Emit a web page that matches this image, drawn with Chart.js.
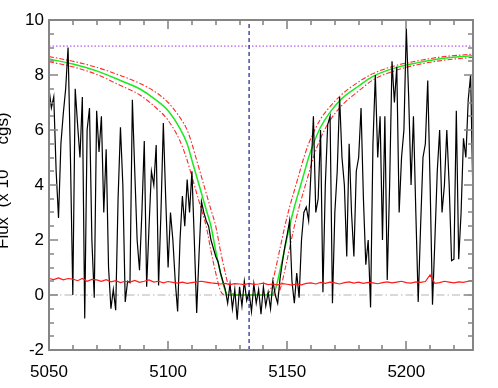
<!DOCTYPE html>
<html>
<head>
<meta charset="utf-8">
<script src="https://cdn.jsdelivr.net/npm/chart.js@4/dist/chart.umd.min.js"></script>
<style>
  html, body { margin: 0; padding: 0; background: #fff; }
  #wrap { width: 498px; height: 388px; position: relative; }
</style>
</head>
<body>
<div id="wrap"><canvas id="spec"></canvas></div>
<script>
// observed spectrum, 1 A pixels starting at 5050
const specStart = 5050;
const specStep = 1;
const specFlux = [
  7.5, 6.8, 7.2, 4.5, 2.8, 5.5, 6.6, 7.5, 9.0, 5.0,
  0.0, 7.5, 6.2, 5.0, 7.2, -0.85, 6.0, 6.8, 2.0, -0.1,
  6.7, 5.2, 6.5, 3.0, 5.3, 1.0, -0.5, 0.2, -0.55, 3.5,
  6.1, 4.0, -0.25, 0.5, 0.45, 7.1, 4.5, 2.0, 0.9, 3.0,
  5.6, 0.3, 2.5, 4.5, 4.0, 5.45, 0.35, 3.0, 6.25, 3.5,
  1.0, 3.0, 2.0, 0.5, -0.6, 2.0, 3.6, 2.5, 4.2, 3.0,
  4.5, 2.0, -0.65, 1.5, 3.4, 3.0, 2.7, 2.5, 2.0, 1.7,
  1.4, 1.2, 0.8, 0.5, 0.2, -0.3, 0.4, -0.5, 0.2, -0.9,
  0.3, -0.4, 0.5, -0.2, 0.1, -0.6, 0.4, -0.3, 0.2, -0.7,
  0.3, -0.4, 0.1, -0.5, 0.5, 0.0, -0.3, 0.6, 1.2, 1.75,
  2.2, 2.7, 0.5, -0.3, 0.8, -0.1, 2.0, 3.0, 3.2, 2.7,
  4.5, 6.5, 3.0, 3.5, 6.0, 0.1, 4.0, 6.2, 6.5, -0.3,
  3.0, 4.5, 7.2, 5.0, 4.0, 1.4, 5.5, 3.0, 1.4, 4.5,
  5.0, 6.8, 3.5, 1.1, 2.0, -0.45, 5.5, 8.0, 5.0, 6.5,
  2.0, 6.5, 0.55, 4.0, 8.5, 7.0, 8.3, 3.0, 5.0, 6.0,
  9.7, 7.2, 4.0, 6.5, 3.0, -0.25, 2.5, 5.0, 5.5, 7.8,
  4.0, -0.35, 2.0, 4.5, 6.0, 3.0, 4.0, 6.0, 4.0, 1.25,
  1.3, 6.7, 1.3, 3.0, 5.7, 5.0, 7.1, 8.0, 3.5
];

// error spectrum, 2 A steps
const errStart = 5050;
const errStep = 2;
const errFlux = [
  0.6, 0.56, 0.62, 0.55, 0.6, 0.58, 0.52, 0.6, 0.5, 0.57, 0.55,
  0.5, 0.56, 0.48, 0.52, 0.45, 0.5, 0.47, 0.53, 0.46, 0.5, 0.55, 0.47, 0.5, 0.44, 0.49,
  0.46, 0.43, 0.47, 0.42, 0.45, 0.48, 0.5, 0.47, 0.44, 0.42, 0.4, 0.42, 0.38, 0.41, 0.4,
  0.38, 0.42, 0.39, 0.4, 0.43, 0.38, 0.4, 0.37, 0.41, 0.39, 0.36, 0.4, 0.37, 0.42, 0.44,
  0.4, 0.46, 0.42, 0.47, 0.44, 0.4, 0.45, 0.48, 0.43, 0.47, 0.42, 0.46, 0.44, 0.41, 0.45,
  0.48, 0.44, 0.47, 0.5, 0.45, 0.43, 0.48, 0.46, 0.49, 0.73, 0.42, 0.45, 0.5, 0.47, 0.44, 0.48, 0.46, 0.5, 0.52
];

// damped profile fit and its +/- range
const modelLam = [5050, 5060, 5070, 5080, 5088, 5094, 5100, 5105, 5108, 5110,
  5112, 5114, 5116, 5118, 5120, 5122, 5124, 5125, 5128, 5134,
  5140, 5143, 5145, 5147, 5149, 5151, 5153, 5155, 5157, 5159,
  5161, 5164, 5168, 5173, 5180, 5186, 5195, 5205, 5215, 5228];
const modelFit = [8.58, 8.4, 8.15, 7.8, 7.5, 7.15, 6.7, 6.05, 5.5, 4.9,
  4.3, 3.7, 3.1, 2.5, 1.6, 0.8, 0.15, 0, 0, 0,
  0, 0, 0.2, 0.9, 1.7, 2.5, 3.2, 3.8, 4.4, 5.0,
  5.5, 6.1, 6.65, 7.15, 7.6, 7.95, 8.25, 8.45, 8.6, 8.7];
const modelHigh = [8.67, 8.5, 8.28, 7.98, 7.7, 7.42, 7.0, 6.45, 6.0, 5.5,
  4.9, 4.3, 3.7, 3.1, 2.5, 1.6, 0.8, 0.45, 0, 0,
  0, 0.2, 0.9, 1.7, 2.5, 3.2, 3.8, 4.4, 5.0, 5.5,
  5.9, 6.4, 6.85, 7.3, 7.75, 8.05, 8.33, 8.52, 8.66, 8.76];
const modelLow = [8.48, 8.3, 8.02, 7.62, 7.28, 6.88, 6.35, 5.6, 4.9, 4.3,
  3.7, 3.1, 2.5, 1.6, 0.8, 0.15, 0, 0, 0, 0,
  0, 0, 0, 0.2, 0.9, 1.7, 2.5, 3.2, 3.8, 4.4,
  5.0, 5.7, 6.35, 6.9, 7.42, 7.82, 8.15, 8.38, 8.53, 8.64];

const continuumLevel = 9.05;
const lineCentre = 5134;

const xMin = 5050, xMax = 5228, xMajor = 50, xMinor = 10;
const yMin = -2, yMax = 10, yMajor = 2, yMinor = 0.5;
const yTitle = ['Flux  (x 10', '-16', ' cgs)'];

const spectrum = specFlux.map((f, i) => ({ x: specStart + i * specStep, y: f }));
const errors = errFlux.map((f, i) => ({ x: errStart + i * errStep, y: f }));
const pts = ys => ys.map((f, i) => ({ x: modelLam[i], y: f }));

const axisGrey = '#858585';
const FONT = 'Liberation Sans, Arial, Helvetica, sans-serif';

// IDL style box: 2px frame, inward ticks on all four sides, clipped y title
const idlBox = {
  id: 'idlBox',
  afterDraw(chart) {
    const ctx = chart.ctx;
    const a = chart.chartArea;
    const x = chart.scales.x, y = chart.scales.y;
    const L = Math.round(a.left), R = Math.round(a.right);
    const T = Math.round(a.top), B = Math.round(a.bottom);
    ctx.save();
    ctx.setLineDash([]);
    ctx.strokeStyle = axisGrey;
    ctx.lineWidth = 2;
    ctx.strokeRect(L, T, R - L, B - T);
    ctx.lineWidth = 1.6;
    ctx.beginPath();
    for (let v = xMin; v <= xMax + 1e-6; v += xMinor) {
      const px = Math.round(x.getPixelForValue(v));
      const len = v % xMajor === 0 ? 9 : 5;
      ctx.moveTo(px, B); ctx.lineTo(px, B - len);
      ctx.moveTo(px, T); ctx.lineTo(px, T + len);
    }
    for (let v = yMin; v <= yMax + 1e-6; v += yMinor) {
      const py = Math.round(y.getPixelForValue(v));
      const len = Math.abs(v % yMajor) < 1e-6 ? 9 : 5;
      ctx.moveTo(L, py); ctx.lineTo(L + len, py);
      ctx.moveTo(R, py); ctx.lineTo(R - len, py);
    }
    ctx.stroke();

    ctx.fillStyle = '#000';
    ctx.translate(8, 249);
    ctx.rotate(-Math.PI / 2);
    ctx.textBaseline = 'alphabetic';
    ctx.textAlign = 'left';
    ctx.font = '17px ' + FONT;
    ctx.fillText(yTitle[0], 0, 0);
    let w = ctx.measureText(yTitle[0]).width;
    ctx.font = '12px ' + FONT;
    ctx.fillText(yTitle[1], w + 1, -8);
    w += ctx.measureText(yTitle[1]).width + 3;
    ctx.font = '17px ' + FONT;
    ctx.fillText(yTitle[2], w, 0);
    ctx.restore();
  }
};

const line = (data, color, width, dash, extra) => Object.assign({
  data, borderColor: color, borderWidth: width, borderDash: dash || [],
  pointRadius: 0, showLine: true, fill: false, tension: 0
}, extra || {});

new Chart(document.getElementById('spec'), {
  type: 'scatter',
  data: {
    datasets: [
      line([{ x: lineCentre, y: yMin }, { x: lineCentre, y: yMax }], '#1e1e90', 1.2, [4, 3]),
      line(errors, '#ff1a1a', 1.2),
      line(spectrum, '#000000', 1.2),
      line(pts(modelFit), '#1ee81e', 1.5, [], { cubicInterpolationMode: 'monotone' }),
      line(pts(modelHigh), '#ff2a2a', 1.1, [5, 2, 1.5, 2], { cubicInterpolationMode: 'monotone' }),
      line(pts(modelLow), '#ff2a2a', 1.1, [5, 2, 1.5, 2], { cubicInterpolationMode: 'monotone' }),
      line([{ x: xMin, y: continuumLevel }, { x: xMax, y: continuumLevel }], '#c98cf2', 1.6, [1.5, 2]),
      line([{ x: xMin, y: 0 }, { x: xMax, y: 0 }], '#b4b4b4', 1, [8, 3, 1.5, 3])
    ]
  },
  options: {
    responsive: true,
    maintainAspectRatio: false,
    animation: false,
    devicePixelRatio: 1,
    layout: { padding: { left: 0, right: 25, top: 20, bottom: 0 } },
    plugins: { legend: { display: false }, tooltip: { enabled: false } },
    scales: {
      x: {
        type: 'linear', min: xMin, max: xMax,
        grid: { display: false, drawTicks: false },
        border: { display: false },
        afterBuildTicks: s => { s.ticks = s.ticks.filter(t => t.value % xMajor === 0); },
        afterFit: s => { s.height = 38; },
        ticks: { stepSize: xMajor, color: '#000', padding: 12, maxRotation: 0,
          callback: v => String(v),
          font: { family: FONT, size: 17 } }
      },
      y: {
        min: yMin, max: yMax,
        grid: { display: false, drawTicks: false },
        border: { display: false },
        afterFit: s => { s.width = 49; },
        ticks: { stepSize: yMajor, color: '#000', padding: 5,
          callback: v => String(v),
          font: { family: FONT, size: 17 } }
      }
    }
  },
  plugins: [idlBox]
});
</script>
</body>
</html>
